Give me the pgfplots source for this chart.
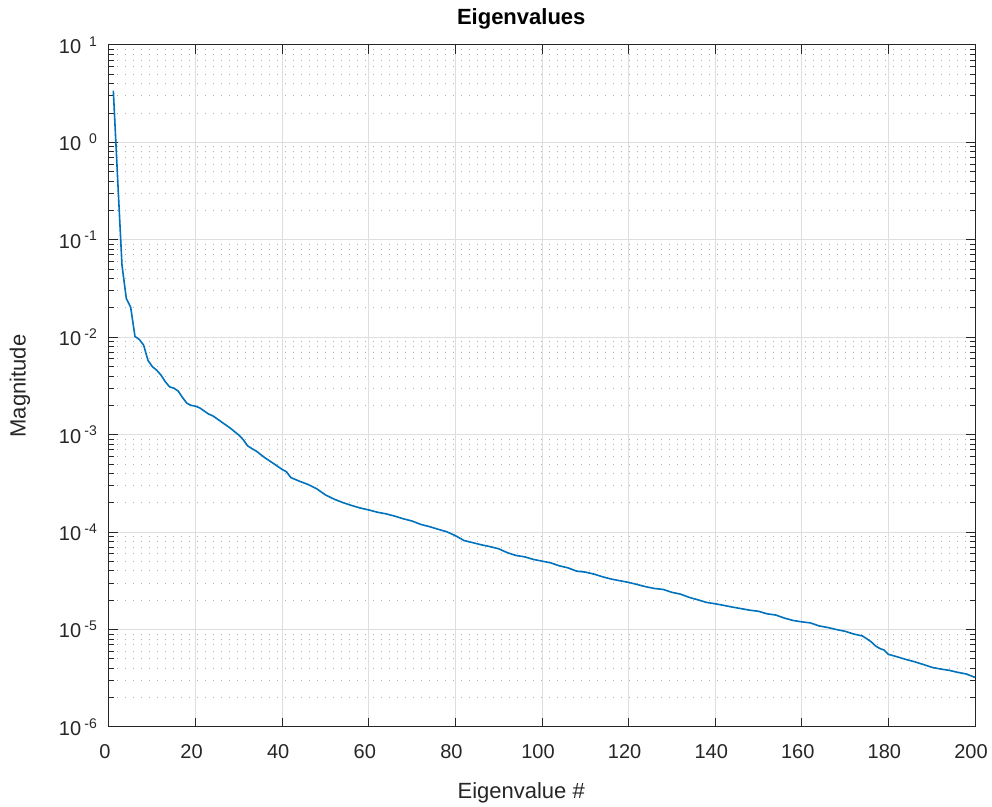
\documentclass[border=0pt]{standalone}
\usepackage{pgfplots}
\pgfplotsset{compat=1.18}
\usepackage{fontspec}
\setmainfont{Liberation Sans}
\definecolor{mlblue}{HTML}{0072BD}
\definecolor{mlaxis}{HTML}{262626}

\pgfplotstableread{
x y
1 3.4
2 0.42
3 0.055
4 0.025
5 0.0204
6 0.0102
7 0.0095
8 0.0083
9 0.0058
10 0.0050
11 0.0046
12 0.0041
13 0.0035
14 0.0031
15 0.0030
16 0.0028
17 0.0024
18 0.0021
19 0.0020
20 0.00196
21 0.00188
22 0.00175
23 0.00163
24 0.00156
26 0.00135
28 0.00117
30 0.00099
31 0.00089
32 0.00077
33 0.00072
34 0.00068
36 0.00058
38 0.000506
40 0.00044
41 0.000416
42 0.000363
44 0.000333
46 0.000308
48 0.000278
50 0.000241
52 0.000218
54 0.000201
56 0.000188
58 0.000177
60 0.000169
62 0.000160
64 0.000154
66 0.000146
68 0.000137
70 0.000130
72 0.000120
74 0.000114
76 0.000107
78 0.000101
80 9.2e-5
82 8.2e-5
84 7.8e-5
86 7.41e-5
88 7.1e-5
90 6.75e-5
92 6.15e-5
94 5.76e-5
96 5.58e-5
98 5.25e-5
100 5.04e-5
102 4.84e-5
104 4.51e-5
106 4.30e-5
108 3.98e-5
110 3.89e-5
112 3.71e-5
114 3.48e-5
116 3.30e-5
118 3.17e-5
120 3.05e-5
122 2.90e-5
124 2.75e-5
126 2.64e-5
128 2.58e-5
130 2.41e-5
132 2.31e-5
134 2.14e-5
136 2.02e-5
138 1.90e-5
140 1.84e-5
142 1.77e-5
144 1.70e-5
146 1.64e-5
148 1.58e-5
150 1.54e-5
152 1.45e-5
154 1.41e-5
156 1.31e-5
158 1.24e-5
160 1.20e-5
162 1.17e-5
164 1.09e-5
166 1.05e-5
168 1.00e-5
170 9.6e-6
172 9.0e-6
174 8.6e-6
175 8.05e-6
176 7.5e-6
177 6.8e-6
178 6.4e-6
179 6.16e-6
180 5.57e-6
182 5.26e-6
184 4.94e-6
186 4.68e-6
188 4.39e-6
190 4.1e-6
192 3.94e-6
194 3.82e-6
196 3.64e-6
198 3.50e-6
200 3.23e-6
}\eigdata

\begin{document}
\begin{tikzpicture}
\useasboundingbox (-54.5pt,-40pt) rectangle (441.5pt,363.5pt);
\begin{axis}[
    at={(0,0)}, anchor=south west,
    scale only axis,
    width=433pt, height=341pt,
    ymode=log, log basis y=10,
    xmin=0, xmax=200, ymin=1e-6, ymax=10,
    xtick={0,20,...,200},
    ytick={1e-6,1e-5,1e-4,1e-3,1e-2,1e-1,1,10},
    minor ytick={2e-6,3e-6,4e-6,5e-6,6e-6,7e-6,8e-6,9e-6,
                 2e-5,3e-5,4e-5,5e-5,6e-5,7e-5,8e-5,9e-5,
                 2e-4,3e-4,4e-4,5e-4,6e-4,7e-4,8e-4,9e-4,
                 2e-3,3e-3,4e-3,5e-3,6e-3,7e-3,8e-3,9e-3,
                 2e-2,3e-2,4e-2,5e-2,6e-2,7e-2,8e-2,9e-2,
                 0.2,0.3,0.4,0.5,0.6,0.7,0.8,0.9,
                 2,3,4,5,6,7,8,9},
    yticklabels={10\,\textsuperscript{-6},10\,\textsuperscript{-5},10\,\textsuperscript{-4},10\,\textsuperscript{-3},10\,\textsuperscript{-2},10\,\textsuperscript{-1},10\,\textsuperscript{\,\,0},10\,\textsuperscript{\,\,1}},
    /pgf/number format/assume math mode=true,
    tick align=inside,
    major tick length=4.5pt,
    minor tick length=2.5pt,
    xtick pos=both, ytick pos=both,
    grid=major,
    yminorgrids=true,
    major grid style={color=black!13, line width=0.5pt},
    minor grid style={color=black!30, line width=0.5pt, dash pattern=on 0.6pt off 3.4pt},
    axis line style={mlaxis, line width=0.5pt},
    every tick/.style={mlaxis, line width=0.5pt},
    tick label style={font=\fontsize{10}{12}\selectfont, color=mlaxis},
    xticklabel style={yshift=-5pt, xshift=-2pt},
    yticklabel style={xshift=-2pt},
    label style={font=\fontsize{11}{13}\selectfont, color=mlaxis},
    title style={font=\fontsize{11}{13}\selectfont\bfseries, at={(axis description cs:0.476,1.0396)}, anchor=center, yshift=-6.5pt},
    title={Eigenvalues},
    xlabel={Eigenvalue \#},
    ylabel={Magnitude},
    xlabel style={at={(axis description cs:0.476,-0.0968)}, anchor=center},
    ylabel style={at={(axis description cs:-0.1028,0.5)}, anchor=center},
]
\addplot[mlblue, line width=0.8pt] table[x=x, y=y] {\eigdata};
\end{axis}
\end{tikzpicture}
\end{document}
